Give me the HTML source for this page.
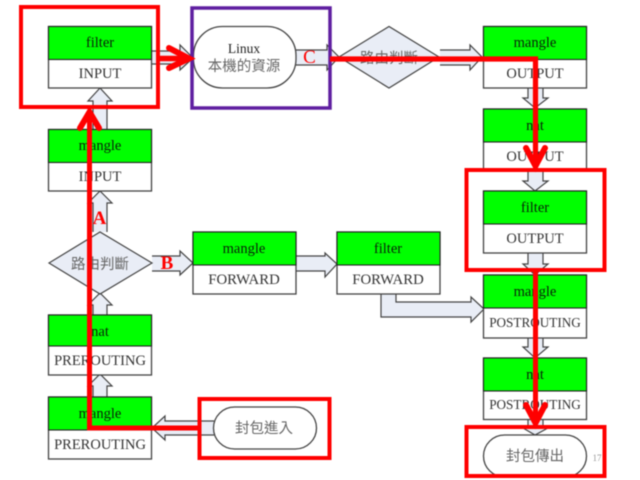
<!DOCTYPE html>
<html>
<head>
<meta charset="utf-8">
<style>
html,body{margin:0;padding:0;background:#fff;width:640px;height:480px;overflow:hidden}
svg{display:block}
text{font-family:"Liberation Serif","Noto Serif CJK SC","Noto Sans CJK TC",serif;text-anchor:middle}
.g{fill:#0a200a;font-size:14.5px}
.w{fill:#333;font-size:14.5px}
.p{fill:#333;font-size:13.2px}
.c{fill:#666;font-size:14.5px;font-family:"Liberation Serif","Noto Sans CJK TC",serif}
.box{fill:#fff;stroke:#444;stroke-width:1.3}
.top{fill:#00ff00;stroke:#222;stroke-width:1.1}
.arr{fill:#e9edf6;stroke:#444;stroke-width:1.2}
.r{fill:none;stroke:#ff0000;stroke-width:4}
.a{fill:none;stroke:#ff0000;stroke-width:5;stroke-linecap:butt;stroke-linejoin:miter}
.h{fill:none;stroke:#ff0000;stroke-width:6;stroke-linecap:round;stroke-linejoin:miter}
</style>
</head>
<body>
<svg width="640" height="480" viewBox="0 0 640 480" xmlns="http://www.w3.org/2000/svg">
<g style="filter:blur(0.4px)">
<!-- block arrows -->
<path class="arr" d="M93 129V101H88L100 88L112 101H107V129"/>
<path class="arr" d="M93 232V203H88L100 191L112 203H107V232"/>
<path class="arr" d="M93 315V305H88L100 293L112 305H107V315"/>
<path class="arr" d="M93 397V386H88L100 374L112 386H107V397"/>
<path class="arr" d="M152 51H180V45L193 58L180 70V64H152"/>
<path class="arr" d="M296 50H327V45L339 57L327 70V65H296"/>
<path class="arr" d="M440 50H470V45L482 57L470 70V65H440"/>
<path class="arr" d="M528 88V98H523L535 108L548 98H543V88"/>
<path class="arr" d="M528 171V181H523L535 191L548 181H543V171"/>
<path class="arr" d="M528 253V264H523L535 275L548 264H543V253"/>
<path class="arr" d="M528 338V347H523L535 358L548 347H543V338"/>
<path class="arr" d="M528 419V428H523L535 435L548 428H543V419"/>
<path class="arr" d="M214 421H165V416L152 428L165 440V435H214"/>
<path class="arr" d="M152 256H180V251L193 263L180 275V271H152"/>
<path class="arr" d="M296 256H325V253L337 264L325 277V271H296"/>
<path class="arr" d="M396 294V302H471V297L484 309L471 322V317H381V294"/>

<!-- left column -->
<rect class="box" x="48.5" y="26.5" width="103" height="61.5"/><rect class="top" x="48.5" y="26.5" width="103" height="33"/>
<text class="g" x="100" y="47">filter</text><text class="w" x="100" y="78">INPUT</text>
<rect class="box" x="48.5" y="129.5" width="103" height="61.5"/><rect class="top" x="48.5" y="129.5" width="103" height="33"/>
<text class="g" x="100" y="150">mangle</text><text class="w" x="100" y="181">INPUT</text>
<rect class="box" x="48.5" y="315" width="103" height="60"/><rect class="top" x="48.5" y="315" width="103" height="31"/>
<text class="g" x="100" y="336">nat</text><text class="w" x="100" y="365">PREROUTING</text>
<rect class="box" x="48.5" y="397" width="103" height="62"/><rect class="top" x="48.5" y="397" width="103" height="33"/>
<text class="g" x="100" y="418">mangle</text><text class="w" x="100" y="449">PREROUTING</text>

<!-- diamonds -->
<polygon class="arr" points="49,263 100,232 152,263 100,294"/>
<text class="c" x="100" y="269">路由判斷</text>
<polygon class="arr" points="339,57 389,26.5 439,57 389,88"/>
<text class="c" x="389" y="63">路由判斷</text>

<!-- middle -->
<rect class="box" x="193" y="232" width="103" height="62"/><rect class="top" x="193" y="232" width="103" height="33"/>
<text class="g" x="244" y="253">mangle</text><text class="w" x="244" y="284" style="font-size:14.8px">FORWARD</text>
<rect class="box" x="337" y="232" width="103" height="62"/><rect class="top" x="337" y="232" width="103" height="33"/>
<text class="g" x="388" y="253">filter</text><text class="w" x="388" y="284" style="font-size:14.8px">FORWARD</text>

<!-- right column -->
<rect class="box" x="483.5" y="26.5" width="103" height="61.5"/><rect class="top" x="483.5" y="26.5" width="103" height="33"/>
<text class="g" x="535" y="47">mangle</text><text class="w" x="535" y="78">OUTPUT</text>
<rect class="box" x="483.5" y="109" width="103" height="62"/><rect class="top" x="483.5" y="109" width="103" height="33"/>
<text class="g" x="535" y="130">nat</text><text class="w" x="535" y="161">OUTPUT</text>
<rect class="box" x="483.5" y="191" width="103" height="62"/><rect class="top" x="483.5" y="191" width="103" height="33"/>
<text class="g" x="535" y="212">filter</text><text class="w" x="535" y="243">OUTPUT</text>
<rect class="box" x="483.5" y="275" width="103" height="63"/><rect class="top" x="483.5" y="275" width="103" height="33"/>
<text class="g" x="535" y="296">mangle</text><text class="p" x="535" y="327">POSTROUTING</text>
<rect class="box" x="483.5" y="358" width="103" height="61.5"/><rect class="top" x="483.5" y="358" width="103" height="33"/>
<text class="g" x="535" y="379">nat</text><text class="p" x="535" y="409">POSTROUTING</text>

<!-- pills -->
<rect class="box" x="193.5" y="26.5" width="102.500" height="61.500" rx="29" ry="29"/>
<text class="g" x="244" y="53" style="fill:#222;font-size:13.500px">Linux</text>
<text class="c" x="244" y="71">本機的資源</text>
<rect class="box" x="213.500" y="407" width="103" height="42" rx="21" ry="21"/>
<text class="c" x="264" y="433">封包進入</text>
<rect class="box" x="483.500" y="435" width="103" height="42" rx="21" ry="21"/>
<text class="c" x="535" y="461">封包傳出</text>
<text x="597" y="461" style="fill:#999;font-size:9px">17</text>

<!-- frames -->
<rect x="192" y="8" width="138" height="100" fill="none" stroke="#5f1ea0" stroke-width="3.500"/>
<rect class="r" x="21" y="7" width="137" height="100"/>
<rect class="r" x="466.500" y="170" width="138" height="100"/>
<rect class="r" x="466.500" y="427" width="138" height="49"/>
<rect class="r" x="199.500" y="399" width="130" height="59"/>

<!-- red routes -->
<path class="a" d="M198 428H89.500V114"/>
<path class="h" d="M80 128L89.500 112L99 128"/>
<path class="a" d="M158 58.500H188" style="stroke-width:5.500"/>
<path class="h" d="M169 48L189 58.500L169 68"/>
<path class="a" d="M330 59H535.500V164" style="stroke-width:5.200"/>
<path class="h" d="M526 148L535.500 166L545 148"/>
<path class="a" d="M535.500 270V421"/>
<path class="h" d="M526 405L535.500 423L545 405"/>

<!-- letters -->
<text x="99.500" y="224" style="fill:#ff0000;font-size:19px;font-weight:bold">A</text>
<text x="167" y="269" style="fill:#ff0000;font-size:19px;font-weight:bold">B</text>
<text x="309.500" y="63" style="fill:#ff0000;font-size:19px">C</text>
</g>
</svg>
</body>
</html>
